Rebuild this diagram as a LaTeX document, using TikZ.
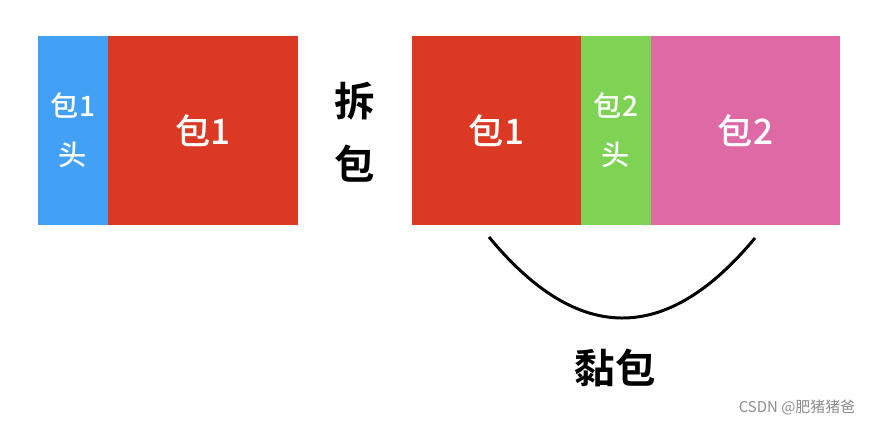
\documentclass[tikz,border=0pt]{standalone}
\usepackage{fontspec}
\newfontfamily\cjk[BoldFont={Noto Sans CJK SC Bold}]{Noto Sans CJK SC}
\newfontfamily\cjkmed{Noto Sans CJK SC Medium}
\usetikzlibrary{positioning}
\definecolor{headblue}{RGB}{66,160,245}
\definecolor{bodyred}{RGB}{219,57,35}
\definecolor{headgreen}{RGB}{126,211,85}
\definecolor{bodypink}{RGB}{222,105,165}

\begin{document}
\begin{tikzpicture}[x=0.02cm, y=-0.02cm, box/.style={draw=none, inner sep=0pt, outer sep=0pt, minimum height=3.78cm, text=white, align=center}, headbox/.style={box, minimum width=1.4cm, font=\cjkmed\fontsize{16}{28}\selectfont}, bodybox/.style={box, font=\cjkmed\fontsize{20}{24}\selectfont}, bigtext/.style={align=center, font=\cjk\bfseries\fontsize{23}{36}\selectfont}]
    \useasboundingbox (0,0) rectangle (875,425);

    %Nodes
    \node[headbox, fill=headblue, anchor=north west](head1) at (38,36){包1\\头};
    \node[bodybox, fill=bodyred, minimum width=3.8cm](body1)[right=0pt of head1]{包1};
    \node[bigtext](split) at (355,132){拆\\包};
    \node[bodybox, fill=bodyred, minimum width=3.38cm, anchor=north west](body1b) at (412,36){包1};
    \node[headbox, fill=headgreen](head2)[right=0pt of body1b]{包2\\头};
    \node[bodybox, fill=bodypink, minimum width=3.78cm](body2)[right=0pt of head2]{包2};
    \node[bigtext](stick) at (615,368){黏包};
    \node[font=\cjk\fontsize{8.5}{10}\selectfont, text=black!45](mark) at (797,408){CSDN @肥猪猪爸};

    %Lines
    \coordinate (stickl) at (489,237);
    \coordinate (stickr) at (755,238);
    \draw[line width=1.7pt] (stickl) .. controls (577.7,344.7) and (666.3,345) .. (stickr);

\end{tikzpicture}
\end{document}
